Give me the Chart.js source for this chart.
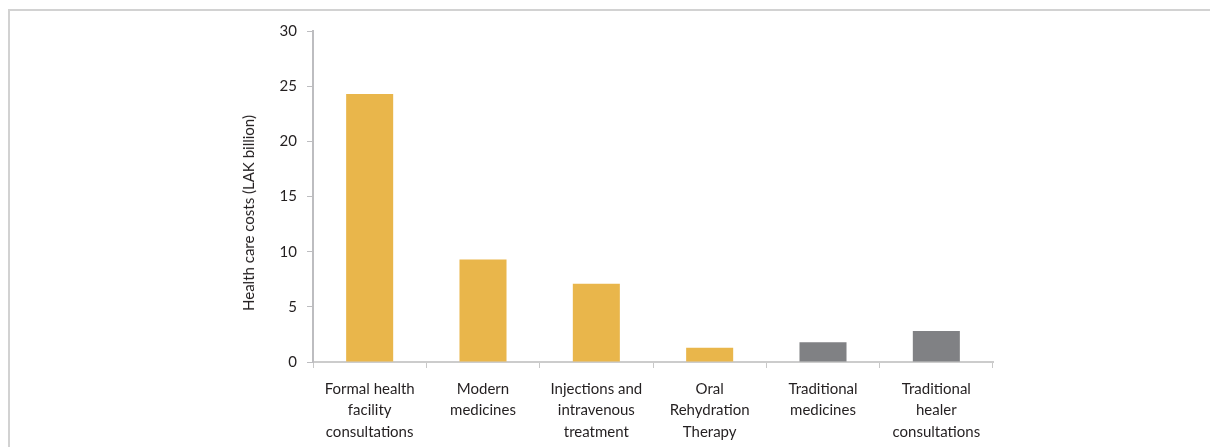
<!DOCTYPE html>
<html>
<head>
<meta charset="utf-8">
<script src="https://cdn.jsdelivr.net/npm/chart.js@4.4.0/dist/chart.umd.min.js"></script>
<style>
  html, body { margin: 0; padding: 0; background: #ffffff; }
  #wrap { position: relative; width: 1210px; height: 447px; overflow: hidden; }
  #frame { position: absolute; left: 8px; top: 9px; width: 1220px; height: 460px;
           border-left: 2px solid #d2d2d2; border-top: 2px solid #d2d2d2; box-sizing: border-box; }
  #c { position: absolute; left: 0; top: 0; }
  #ytitle { position: absolute; left: 248px; top: 213px; transform: translate(-50%, -50%) rotate(-90deg);
            white-space: nowrap; font-family: Lato, 'Open Sans', sans-serif; font-size: 15px; color: #231f20; }
</style>
</head>
<body>
<div id="wrap">
  <div id="frame"></div>
  <canvas id="c" width="1210" height="447"></canvas>
  <div id="ytitle"></div>
</div>
<script>
const categories = [
  ["Formal health", "facility", "consultations"],
  ["Modern", "medicines"],
  ["Injections and", "intravenous", "treatment"],
  ["Oral", "Rehydration", "Therapy"],
  ["Traditional", "medicines"],
  ["Traditional", "healer", "consultations"]
];
const costs = [24.3, 9.3, 7.1, 1.3, 1.8, 2.8];
const barColors = ["#E9B64B", "#E9B64B", "#E9B64B", "#E9B64B", "#808184", "#808184"];
const yTicks = [0, 5, 10, 15, 20, 25, 30];
const yTitle = "Health care costs (LAK billion)";

document.getElementById('ytitle').textContent = yTitle;

const FONT = "Lato, 'Open Sans', sans-serif";

new Chart(document.getElementById('c'), {
  type: 'bar',
  data: {
    labels: categories,
    datasets: [{
      data: costs,
      backgroundColor: barColors,
      borderWidth: 0,
      barPercentage: 0.415,
      categoryPercentage: 1.0
    }]
  },
  options: {
    responsive: false,
    animation: false,
    devicePixelRatio: 1,
    layout: { padding: { left: 236, right: 217, top: 31, bottom: 0 } },
    plugins: { legend: { display: false }, tooltip: { enabled: false } },
    scales: {
      x: {
        grid: { display: true, drawOnChartArea: false, offset: true, tickLength: 6, color: '#c8c8c8', lineWidth: 1 },
        border: { display: true, color: '#cccccc', width: 2 },
        ticks: { color: '#231f20', font: { family: FONT, size: 15, lineHeight: 1.45 }, padding: 10, maxRotation: 0, autoSkip: false },
        afterFit: (s) => { s.height = 85; }
      },
      y: {
        min: 0, max: 30,
        afterBuildTicks: (s) => { s.ticks = yTicks.map(v => ({ value: v })); },
        grid: { display: true, drawOnChartArea: false, tickLength: 6, color: '#bdbdc0', lineWidth: 1 },
        border: { display: true, color: '#bdbdc0', width: 2 },
        ticks: { color: '#231f20', font: { family: FONT, size: 15 }, padding: 10 },
        title: { display: false },
        afterFit: (s) => { s.width = 313 - 236; }
      }
    }
  }
});
</script>
</body>
</html>
